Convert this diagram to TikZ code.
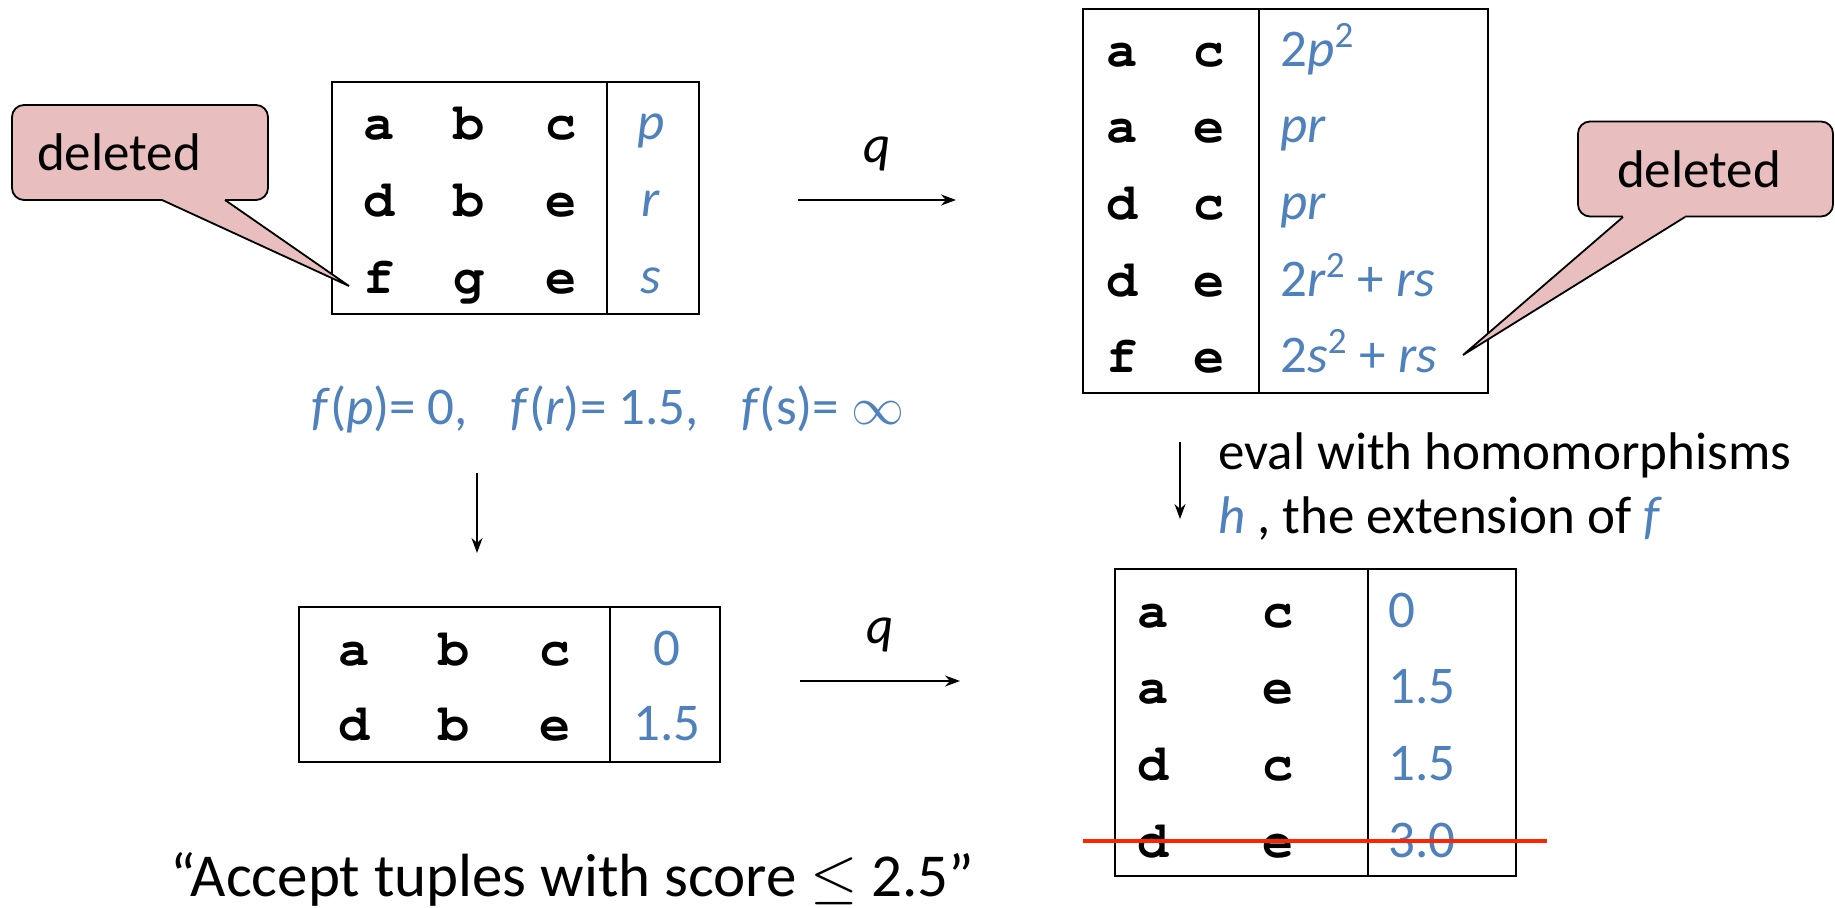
\documentclass[tikz,border=0pt]{standalone}
\usepackage{fix-cm}
\usepackage{fontspec}
\setmainfont{Carlito}
\newfontfamily\tupfont{TeX Gyre Cursor}
\usetikzlibrary{arrows.meta,positioning,calc}
\definecolor{annblue}{RGB}{79,129,189}
\definecolor{callpink}{RGB}{232,191,190}
\definecolor{strikered}{RGB}{255,36,0}

\begin{document}
\begin{tikzpicture}[x=0.5pt,y=-0.5pt,inner sep=0pt,
   txt/.style={font=\fontsize{26.5}{32}\selectfont},
   tup/.style={font=\tupfont\bfseries\fontsize{26}{28}\selectfont,anchor=base},
   val/.style={txt,text=annblue,anchor=base},
   tbl/.style={line width=1.1pt},
   callout/.style={txt,draw,fill=callpink,line width=0.9pt,rounded corners=6pt,
                   align=left,minimum height=47.5pt},
   tail/.style={line width=0.9pt,line join=miter},
   arr/.style={-{Stealth[length=7.5pt,width=5.5pt]},line width=0.7pt}]
  \useasboundingbox (0,0) rectangle (1835,908);

  \draw[tbl] (332,82) rectangle (699,314);
  \draw[tbl] (607,82) -- (607,314);
  \foreach \ca/\cb/\cc/\pv/\ypos [count=\n] in {a/b/c/p/140,d/b/e/r/217,f/g/e/s/294}{
    \node[tup] (ra\n) at (379,\ypos) {\ca};
    \node[tup] (rb\n) at (469,\ypos) {\cb};
    \node[tup] (rc\n) at (561,\ypos) {\cc};
    \node[val] (rv\n) at (651,\ypos) {\textit{\pv}};
  }

  \node[callout,text width=103pt,inner xsep=12.5pt] (del1) at (140,152.5) {deleted};
  \coordinate (tip1) at (349,286);
  \fill[callpink] (162,195) -- (162,200) -- (tip1) -- (225,200) -- (225,195) -- cycle;
  \draw[tail] (162,200) -- (tip1) -- (225,200);

  \coordinate (qs1) at (798,200);
  \coordinate (qe1) at (956,200);
  \draw[arr] (qs1) -- (qe1) node[midway,above=14pt,txt] (qlab1) {\textit{q}};

  \draw[tbl] (1083,9) rectangle (1488,393);
  \draw[tbl] (1259,9) -- (1259,393);
  \foreach \ca/\cc/\ypos [count=\n] in {a/c/67,a/e/143,d/c/220,d/e/297,f/e/373}{
    \node[tup] (qa\n) at (1122,\ypos) {\ca};
    \node[tup] (qc\n) at (1209,\ypos) {\cc};
  }
  \node[val,anchor=base west] (qv1) at (1280,67) {2\textit{p}\textsuperscript{2}};
  \node[val,anchor=base west] (qv2) at (1280,143) {\textit{pr}};
  \node[val,anchor=base west] (qv3) at (1280,220) {\textit{pr}};
  \node[val,anchor=base west] (qv4) at (1280,297) {2\textit{r}\textsuperscript{2} + \textit{rs}};
  \node[val,anchor=base west] (qv5) at (1280,373) {2\textit{s}\textsuperscript{2} + \textit{rs}};

  \node[callout,text width=88.5pt,inner xsep=19.5pt] (del2) at (1705.5,169) {deleted};
  \coordinate (tip2) at (1463,355);
  \fill[callpink] (1623,212) -- (1623,217) -- (tip2) -- (1685,217) -- (1685,212) -- cycle;
  \draw[tail] (1623,217) -- (tip2) -- (1685,217);

  \node[val,anchor=base west] (fmap) at (311,425)
    {\textit{f}(\textit{p})= 0,\hspace{0.8em}\textit{f}(\textit{r})= 1.5,\hspace{0.8em}\textit{f}(s)= $\infty$};

  \coordinate (ds1) at (477,473);
  \coordinate (de1) at (477,553);
  \draw[arr] (ds1) -- (de1);

  \draw[tbl] (299,607) rectangle (720,762);
  \draw[tbl] (610,607) -- (610,762);
  \foreach \ca/\cb/\cc/\pv/\ypos [count=\n] in {a/b/c/0/665,d/b/e/1.5/740}{
    \node[tup] (sa\n) at (354,\ypos) {\ca};
    \node[tup] (sb\n) at (454,\ypos) {\cb};
    \node[tup] (sc\n) at (555,\ypos) {\cc};
    \node[val] (sv\n) at (667,\ypos) {\pv};
  }

  \coordinate (qs2) at (800,681);
  \coordinate (qe2) at (960,681);
  \draw[arr] (qs2) -- (qe2) node[midway,above=14pt,txt] (qlab2) {\textit{q}};

  \coordinate (ds2) at (1180,442);
  \coordinate (de2) at (1180,519);
  \draw[arr] (ds2) -- (de2);
  \node[txt,anchor=base west] (eval) at (1218,470) {eval with homomorphisms};
  \node[txt,anchor=base west] (ext) at (1218,533)
    {\textcolor{annblue}{\textit{h}} , the extension of \textcolor{annblue}{\textit{f}}};

  \draw[tbl] (1115,569) rectangle (1516,876);
  \draw[tbl] (1368,569) -- (1368,876);
  \foreach \ca/\cc/\pv/\ypos [count=\n] in {a/c/0/627,a/e/1.5/703,d/c/1.5/780,d/e/3.0/857}{
    \node[tup] (ta\n) at (1153,\ypos) {\ca};
    \node[tup] (tc\n) at (1278,\ypos) {\cc};
    \node[val,anchor=base west] (tv\n) at (1388,\ypos) {\pv};
  }
  \draw[strikered,line width=1.7pt] (1083,841) -- (1547,841);

  \node[font=\fontsize{30.5}{36}\selectfont,anchor=base west] (accept) at (170,896)
    {“Accept tuples with score $\leq$ 2.5”};
\end{tikzpicture}
\end{document}
